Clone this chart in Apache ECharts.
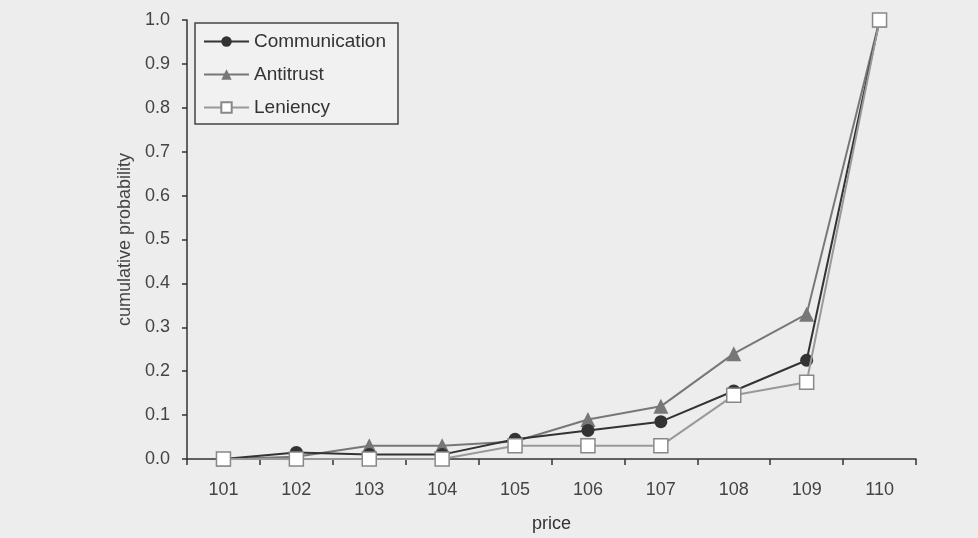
<!DOCTYPE html>
<html><head><meta charset="utf-8">
<script src="https://cdn.jsdelivr.net/npm/echarts@6/dist/echarts.min.js"></script>
<style>html,body{margin:0;padding:0;background:#ededed}#c{width:978px;height:538px}</style>
</head><body><div id="c"></div>
<script>
var categories = ['101','102','103','104','105','106','107','108','109','110'];
var communication = [0, 0.015, 0.01, 0.01, 0.045, 0.065, 0.085, 0.155, 0.225, 1.0];
var antitrust = [0, 0.005, 0.03, 0.03, 0.04, 0.09, 0.12, 0.24, 0.33, 1.0];
var leniency = [0, 0, 0, 0, 0.03, 0.03, 0.03, 0.145, 0.175, 1.0];

var font = 'Liberation Sans, Arial, sans-serif';
var chart = echarts.init(document.getElementById('c'));
chart.setOption({
  backgroundColor: '#ededed',
  animation: false,
  grid: {left: 187, right: 62, top: 20, bottom: 77},
  legend: {
    orient: 'vertical', left: 195, top: 23,
    backgroundColor: '#f1f1f1',
    borderColor: '#444', borderWidth: 1.5, borderRadius: 0,
    padding: [9, 12, 7, 8],
    itemWidth: 45, itemHeight: 13, itemGap: 14,
    textStyle: {fontFamily: font, fontSize: 19, color: '#333'},
    data: ['Communication', 'Antitrust', 'Leniency']
  },
  xAxis: {
    type: 'category', data: categories, boundaryGap: true,
    name: 'price', nameLocation: 'middle', nameGap: 56,
    nameTextStyle: {fontFamily: font, fontSize: 18, color: '#333'},
    axisLine: {lineStyle: {color: '#333', width: 1.5}},
    axisTick: {show: true, length: 6, lineStyle: {color: '#333', width: 1.5}},
    axisLabel: {fontFamily: font, fontSize: 18, color: '#444', margin: 22},
    splitLine: {show: false}
  },
  yAxis: {
    type: 'value', min: 0, max: 1, interval: 0.1,
    name: 'cumulative probability', nameLocation: 'middle', nameGap: 53, nameRotate: 90,
    nameTextStyle: {fontFamily: font, fontSize: 18, color: '#444'},
    axisLine: {show: true, lineStyle: {color: '#333', width: 1.5}},
    axisTick: {show: true, length: 5, lineStyle: {color: '#333', width: 1.5}},
    axisLabel: {fontFamily: font, fontSize: 18, color: '#444', margin: 17,
      formatter: function(v){ return v.toFixed(1); }},
    splitLine: {show: false}
  },
  series: [
    {name: 'Communication', type: 'line', data: communication,
     symbol: 'circle', symbolSize: 13, z: 3,
     lineStyle: {color: '#333', width: 2}, itemStyle: {color: '#333'}},
    {name: 'Antitrust', type: 'line', data: antitrust,
     symbol: 'triangle', symbolSize: 15, z: 2,
     lineStyle: {color: '#777', width: 2}, itemStyle: {color: '#777'}},
    {name: 'Leniency', type: 'line', data: leniency,
     symbol: 'rect', symbolSize: 14, z: 4,
     lineStyle: {color: '#999', width: 2},
     itemStyle: {color: '#fff', borderColor: '#888', borderWidth: 1.5}}
  ]
});
</script></body></html>
